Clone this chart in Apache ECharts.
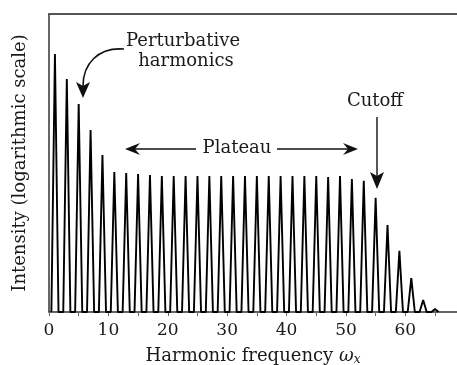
<!DOCTYPE html>
<html>
<head>
<meta charset="utf-8">
<script src="https://cdn.jsdelivr.net/npm/echarts@6/dist/echarts.min.js"></script>
<style>html,body{margin:0;padding:0;background:#fff}#c{width:457px;height:365px}</style>
</head>
<body>
<div id="c"></div>
<script>
// Harmonic orders (odd harmonics)
var harmonics = [1,3,5,7,9,11,13,15,17,19,21,23,25,27,29,31,33,35,37,39,41,43,45,47,49,51,53,55,57,59,61,63,65];
// Peak intensity (log scale, arbitrary units 0..10)
var intensity = [8.66,7.82,6.98,6.11,5.27,4.70,4.66,4.63,4.60,4.56,4.56,4.56,4.56,4.56,4.56,4.56,4.56,4.56,4.56,4.56,4.56,4.56,4.56,4.53,4.56,4.46,4.40,3.83,2.92,2.05,1.14,0.40,0.10];
var xTicks = [0,10,20,30,40,50,60];

var halfWidth = 0.6;
var lineData = [];
for (var i = 0; i < harmonics.length; i++) {
  lineData.push([harmonics[i] - halfWidth, 0]);
  lineData.push([harmonics[i], intensity[i]]);
  lineData.push([harmonics[i] + halfWidth, 0]);
}

var FONT = 'DejaVu Serif';
var TXT = '#1a1a1a';
var chart = echarts.init(document.getElementById('c'));
chart.setOption({
  animation: false,
  backgroundColor: '#fff',
  grid: {left: 49, top: 14, right: 0, bottom: 53, containLabel: false, outerBoundsMode: 'none'},
  xAxis: [{
    type: 'value', min: 0, max: 68.7, interval: 10,
    axisLine: {show: true, lineStyle: {color: '#333', width: 1.5}},
    axisTick: {show: true, length: 4, lineStyle: {color: '#666'}},
    minorTick: {show: true, splitNumber: 2, length: 4, lineStyle: {color: '#666'}},
    splitLine: {show: false},
    axisLabel: {
      fontFamily: FONT, fontSize: 17, color: TXT, margin: 10, showMaxLabel: false,
      formatter: function (v) { return xTicks.indexOf(v) >= 0 ? String(v) : ''; }
    },
    name: '{a|Harmonic frequency }{w|ω}{s|x}',
    nameLocation: 'middle', nameGap: 34,
    nameTextStyle: {
      rich: {
        a: {fontFamily: FONT, fontSize: 18, color: TXT},
        w: {fontFamily: FONT, fontSize: 18, color: TXT, fontStyle: 'italic'},
        s: {fontFamily: FONT, fontSize: 12, color: TXT, fontStyle: 'italic', verticalAlign: 'bottom', padding: [8, 0, 0, 0]}
      }
    }
  }, {
    type: 'value', min: 0, max: 68.7, position: 'top',
    axisLine: {show: true, lineStyle: {color: '#555', width: 2}},
    axisTick: {show: false}, axisLabel: {show: false}, splitLine: {show: false}
  }],
  yAxis: {
    type: 'value', min: 0, max: 10,
    axisLine: {show: true, lineStyle: {color: '#333', width: 1.5}},
    axisTick: {show: false}, axisLabel: {show: false}, splitLine: {show: false},
    name: 'Intensity (logarithmic scale)',
    nameLocation: 'middle', nameGap: 20,
    nameTextStyle: {fontFamily: FONT, fontSize: 18, color: TXT}
  },
  series: [{
    type: 'line', data: lineData, symbol: 'none', xAxisIndex: 0,
    lineStyle: {color: '#000', width: 1.9}
  }],
  graphic: [
    {type: 'text', x: 183, y: 41, style: {text: 'Perturbative', font: '18px "DejaVu Serif"', fill: TXT, align: 'center', verticalAlign: 'middle'}},
    {type: 'text', x: 186, y: 61, style: {text: 'harmonics', font: '18px "DejaVu Serif"', fill: TXT, align: 'center', verticalAlign: 'middle'}},
    {type: 'bezierCurve', shape: {x1: 124, y1: 49, cpx1: 98, cpy1: 47, cpx2: 83, cpy2: 64, x2: 83, y2: 86}, style: {stroke: '#111', lineWidth: 1.6, fill: null}},
    {type: 'polygon', shape: {points: [[83, 98], [76, 82], [83, 86], [90, 82]]}, style: {fill: '#111'}},
    {type: 'text', x: 237, y: 148, style: {text: 'Plateau', font: '18px "DejaVu Serif"', fill: TXT, align: 'center', verticalAlign: 'middle'}},
    {type: 'line', shape: {x1: 196, y1: 149, x2: 132, y2: 149}, style: {stroke: '#111', lineWidth: 1.6}},
    {type: 'polygon', shape: {points: [[125, 149], [140, 143], [135, 149], [140, 155]]}, style: {fill: '#111'}},
    {type: 'line', shape: {x1: 277, y1: 149, x2: 351, y2: 149}, style: {stroke: '#111', lineWidth: 1.6}},
    {type: 'polygon', shape: {points: [[358, 149], [343, 143], [348, 149], [343, 155]]}, style: {fill: '#111'}},
    {type: 'text', x: 375, y: 101, style: {text: 'Cutoff', font: '18px "DejaVu Serif"', fill: TXT, align: 'center', verticalAlign: 'middle'}},
    {type: 'line', shape: {x1: 377, y1: 117, x2: 377, y2: 182}, style: {stroke: '#111', lineWidth: 1.4}},
    {type: 'polygon', shape: {points: [[377, 189], [370, 172], [377, 176], [384, 172]]}, style: {fill: '#111'}}
  ]
});
</script>
</body>
</html>
